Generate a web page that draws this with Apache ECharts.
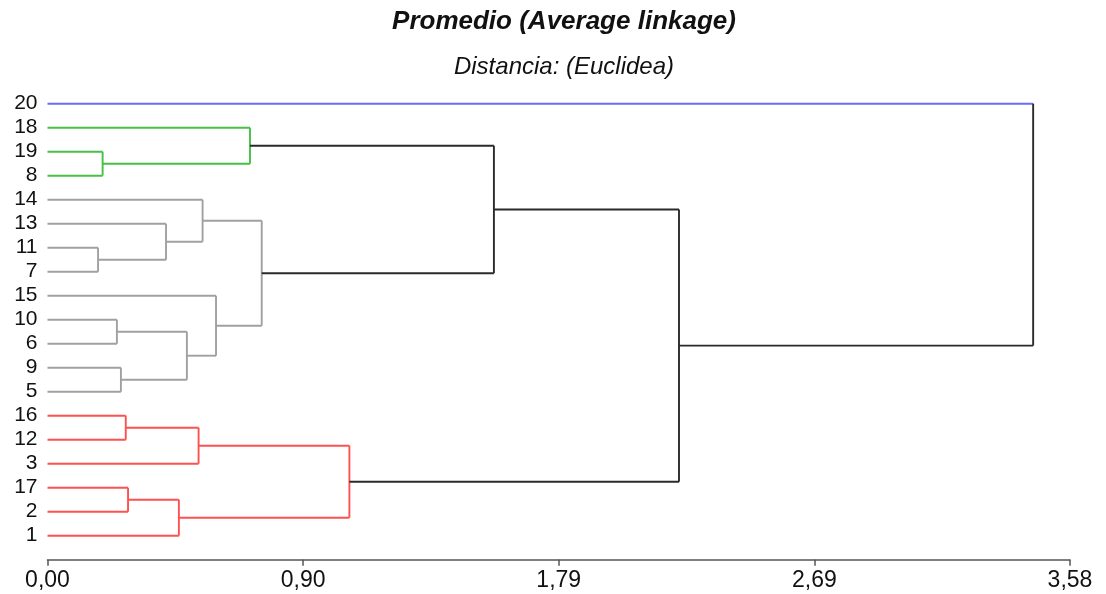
<!DOCTYPE html>
<html>
<head>
<meta charset="utf-8">
<script src="https://cdn.jsdelivr.net/npm/echarts@6/dist/echarts.min.js"></script>
<style>
  html, body { margin: 0; padding: 0; background: #fff; }
  #chart { width: 1106px; height: 594px; }
</style>
</head>
<body>
<div id="chart"></div>
<script>
// hojas del dendrograma, de arriba a abajo
const leaves = ['20', '18', '19', '8', '14', '13', '11', '7', '15', '10', '6', '9', '5', '16', '12', '3', '17', '2', '1'];
const leafGroup = ['blue', 'green', 'green', 'green', 'gray', 'gray', 'gray', 'gray', 'gray', 'gray', 'gray', 'gray', 'gray', 'red', 'red', 'red', 'red', 'red', 'red'];

// uniones: hijo A, hijo B, distancia, color (mN = union N)
const mergeA = ['11', '19', '10', '9', '16', '17', '13', 'm5', 'm2', 'm4', '14', '15', '18', 'm10', 'm9', 'm12', 'm15', '20'];
const mergeB = ['7', '8', '6', '5', '12', '2', 'm0', '1', 'm3', '3', 'm6', 'm8', 'm1', 'm11', 'm7', 'm13', 'm14', 'm16'];
const mergeHeight = [0.177, 0.193, 0.243, 0.257, 0.274, 0.282, 0.415, 0.460, 0.488, 0.529, 0.543, 0.590, 0.709, 0.750, 1.057, 1.563, 2.211, 3.451];
const mergeGroup = ['gray', 'green', 'gray', 'gray', 'red', 'red', 'gray', 'red', 'gray', 'red', 'gray', 'gray', 'green', 'gray', 'red', 'black', 'black', 'black'];

const xTicks = ['0,00', '0,90', '1,79', '2,69', '3,58'];

const colors = { blue: '#6a6aff', green: '#45c045', gray: '#a0a0a0', red: '#ff5050', black: '#2a2a2a' };

// posicion de cada nodo: x = distancia, y = indice de fila
const nodes = {};
leaves.forEach((name, i) => { nodes[name] = { x: 0, y: i, color: colors[leafGroup[i]] }; });
const links = [];
mergeA.forEach((a, i) => {
  const b = mergeB[i];
  const h = mergeHeight[i];
  const na = nodes[a], nb = nodes[b];
  const c = colors[mergeGroup[i]];
  nodes['m' + i] = { x: h, y: (na.y + nb.y) / 2, color: c };
  links.push({
    value: [h, na.y, nb.y, na.x, nb.x],
    colA: a.startsWith('m') ? c : na.color,
    colB: b.startsWith('m') ? c : nb.color,
    col: c
  });
});

const chart = echarts.init(document.getElementById('chart'));
chart.setOption({
  animation: false,
  title: [
    {
      text: 'Promedio (Average linkage)',
      left: 559, top: 4, textAlign: 'center',
      textStyle: { fontFamily: 'Liberation Sans', fontSize: 26, fontWeight: 'bold', fontStyle: 'italic', color: '#111' }
    },
    {
      text: 'Distancia: (Euclidea)',
      left: 559, top: 50, textAlign: 'center',
      textStyle: { fontFamily: 'Liberation Sans', fontSize: 24, fontWeight: 'normal', fontStyle: 'italic', color: '#111' }
    }
  ],
  grid: { left: 47.5, right: 36, top: 79.7, bottom: 34.3 },
  xAxis: {
    type: 'value', min: 0, max: 3.58, interval: 0.895, position: 'bottom',
    axisLine: { onZero: false, lineStyle: { color: '#555', width: 1.5 } },
    axisTick: { show: true, length: 6, lineStyle: { color: '#555', width: 1.5 } },
    splitLine: { show: false },
    axisLabel: {
      margin: 9, fontSize: 23, color: '#111', fontFamily: 'Liberation Sans',
      formatter: (v, idx) => xTicks[idx]
    }
  },
  yAxis: {
    type: 'value', inverse: true, min: -1, max: 19, interval: 1,
    axisLine: { show: false }, axisTick: { show: false }, splitLine: { show: false },
    axisLabel: {
      margin: 10, fontSize: 21, color: '#111', fontFamily: 'Liberation Sans',
      formatter: v => leaves[v] || ''
    }
  },
  series: [{
    type: 'custom',
    data: links,
    encode: { x: [0, 3, 4], y: [1, 2] },
    renderItem: function (params, api) {
      const h = api.value(0), ya = api.value(1), yb = api.value(2), xa = api.value(3), xb = api.value(4);
      const item = links[params.dataIndex];
      const pA0 = api.coord([xa, ya]), pA1 = api.coord([h, ya]);
      const pB0 = api.coord([xb, yb]), pB1 = api.coord([h, yb]);
      const w = 1.9;
      return {
        type: 'group',
        children: [
          { type: 'line', shape: { x1: pA0[0], y1: pA0[1], x2: pA1[0], y2: pA1[1] }, style: { stroke: item.colA, lineWidth: w } },
          { type: 'line', shape: { x1: pB0[0], y1: pB0[1], x2: pB1[0], y2: pB1[1] }, style: { stroke: item.colB, lineWidth: w } },
          { type: 'line', shape: { x1: pA1[0], y1: pA1[1], x2: pB1[0], y2: pB1[1] }, style: { stroke: item.col, lineWidth: w } }
        ]
      };
    }
  }]
});
</script>
</body>
</html>
